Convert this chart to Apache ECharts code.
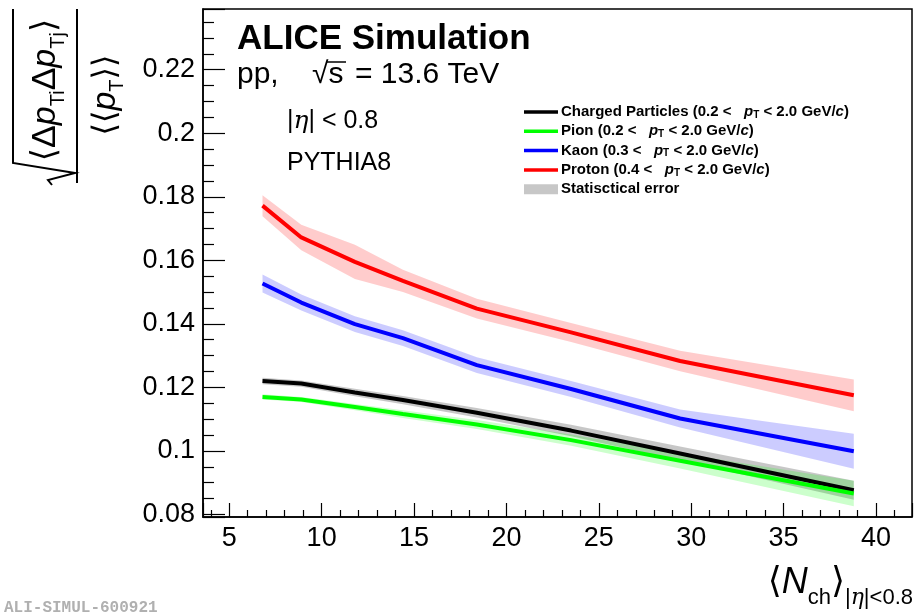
<!DOCTYPE html>
<html>
<head>
<meta charset="utf-8">
<script src="https://cdn.jsdelivr.net/npm/echarts@6/dist/echarts.min.js"></script>
<style>
html, body { margin: 0; padding: 0; background: #fff; }
#main { width: 914px; height: 612px; }
</style>
</head>
<body>
<div id="main"></div>
<script>
// <Nch> of the multiplicity classes
var nch = [6.8, 8.9, 11.8, 14.4, 18.4, 23.5, 29.4, 38.8];

var chargedY   = [0.1220, 0.1212, 0.1184, 0.1160, 0.1120, 0.1064, 0.0992, 0.0876];
var chargedErr = [0.0010, 0.0010, 0.0012, 0.0013, 0.0015, 0.0018, 0.0022, 0.0030];
var pionY      = [0.1170, 0.1162, 0.1138, 0.1116, 0.1083, 0.1034, 0.0969, 0.0866];
var pionErr    = [0.0008, 0.0008, 0.0010, 0.0012, 0.0014, 0.0018, 0.0024, 0.0040];
var kaonY      = [0.1527, 0.1467, 0.1399, 0.1355, 0.1270, 0.1195, 0.1102, 0.0999];
var kaonErr    = [0.0028, 0.0025, 0.0025, 0.0025, 0.0025, 0.0025, 0.0028, 0.0055];
var protonY    = [0.1772, 0.1672, 0.1595, 0.1535, 0.1448, 0.1373, 0.1283, 0.1175];
var protonErr  = [0.0033, 0.0040, 0.0054, 0.0035, 0.0031, 0.0030, 0.0032, 0.0050];

var names = [
    'Charged Particles (0.2 < pT < 2.0 GeV/c)',
    'Pion (0.2 < pT < 2.0 GeV/c)',
    'Kaon (0.3 < pT < 2.0 GeV/c)',
    'Proton (0.4 < pT < 2.0 GeV/c)',
    'Statisctical error'
];

var FONT = "'Liberation Sans', 'DejaVu Sans', sans-serif";

var chart = echarts.init(document.getElementById('main'), null, {renderer: 'canvas'});

function band(name, y, err, color) {
    return {
        name: name, type: 'custom', z: 1, silent: true,
        itemStyle: {color: color},
        data: nch.map(function(x, i) { return [x, y[i] - err[i], y[i] + err[i]]; }),
        encode: {x: 0, y: [1, 2]},
        renderItem: function(params, api) {
            if (params.dataIndex !== 0) return null;
            var top = [], bot = [];
            nch.forEach(function(x, i) {
                top.push(api.coord([x, y[i] + err[i]]));
                bot.unshift(api.coord([x, y[i] - err[i]]));
            });
            return {type: 'polygon', shape: {points: top.concat(bot)}, style: {fill: color}};
        }
    };
}

function line(name, y, color) {
    return {
        name: name, type: 'line', z: 3, silent: true, symbol: 'none', color: color,
        lineStyle: {width: 4, color: color},
        data: nch.map(function(x, i) { return [x, y[i]]; })
    };
}

var lineIcon = 'path://M0,0L68,0L68,7L0,7Z';

var option = {
    animation: false,
    backgroundColor: '#fff',
    grid: {left: 203, top: 9, width: 709, height: 508, show: true, borderColor: '#000', borderWidth: 1.5},
    xAxis: {
        type: 'value', min: 3.58, max: 41.95, minInterval: 5, maxInterval: 5,
        axisLine: {show: true, lineStyle: {color: '#000', width: 1.5}},
        axisTick: {inside: true, length: 14, lineStyle: {color: '#000', width: 1.2}},
        minorTick: {show: true, splitNumber: 5, length: 7, lineStyle: {color: '#000', width: 1.2}},
        splitLine: {show: false},
        axisLabel: {showMinLabel: false, showMaxLabel: false, margin: 8, color: '#000', fontSize: 27, fontFamily: FONT}
    },
    yAxis: {
        type: 'value', min: 0.0792, max: 0.2391, minInterval: 0.02, maxInterval: 0.02,
        axisLine: {show: true, lineStyle: {color: '#000', width: 1.5}},
        axisTick: {inside: true, length: 22, lineStyle: {color: '#000', width: 1.2}},
        minorTick: {show: true, splitNumber: 4, length: 11, lineStyle: {color: '#000', width: 1.2}},
        splitLine: {show: false},
        axisLabel: {
            showMinLabel: false, showMaxLabel: false, margin: 8, color: '#000', fontSize: 27, fontFamily: FONT,
            formatter: function(v) { return String(+v.toFixed(3)); }
        }
    },
    legend: {
        orient: 'vertical', left: 519, top: 99, itemWidth: 34, itemHeight: 10, itemGap: 3.3,
        selectedMode: false, inactiveColor: '#000',
        textStyle: {
            fontFamily: FONT, fontSize: 15, fontWeight: 'bold', color: '#000', lineHeight: 16, padding: [0, 0, 0, -2],
            rich: {
                i: {fontFamily: FONT, fontSize: 15, fontWeight: 'bold', fontStyle: 'italic', color: '#000'},
                s: {fontFamily: FONT, fontSize: 10, fontWeight: 'bold', color: '#000', verticalAlign: 'bottom', lineHeight: 10, padding: [6, 0, 0, 0]}
            }
        },
        formatter: function(n) {
            return n.replace(' pT ', '   {i|p}{s|T} ').replace('GeV/c)', 'GeV/{i|c})');
        },
        data: [
            {name: names[0], icon: lineIcon},
            {name: names[1], icon: lineIcon},
            {name: names[2], icon: lineIcon},
            {name: names[3], icon: lineIcon},
            {name: names[4], icon: 'rect'}
        ]
    },
    graphic: [
        {type: 'text', x: 237, y: 39, style: {text: 'ALICE Simulation', font: 'bold 35px ' + FONT, fill: '#000', verticalAlign: 'middle'}},
        {type: 'text', x: 237, y: 75, style: {text: 'pp,', font: '30px ' + FONT, fill: '#000', verticalAlign: 'middle'}},
        {type: 'text', x: 312, y: 75, style: {text: '\u221As', font: '30px ' + FONT, fill: '#000', verticalAlign: 'middle'}},
        {type: 'line', shape: {x1: 327, y1: 62, x2: 346, y2: 62}, style: {stroke: '#000', lineWidth: 1.5}},
        {type: 'text', x: 355, y: 75, style: {text: '= 13.6 TeV', font: '30px ' + FONT, fill: '#000', verticalAlign: 'middle'}},
        {type: 'text', x: 287, y: 121, style: {
            text: '|{i|\u03B7}| < 0.8', font: '25px ' + FONT, fill: '#000', verticalAlign: 'middle',
            rich: {i: {fontFamily: 'DejaVu Serif', fontStyle: 'italic', fontSize: 25}}
        }},
        {type: 'text', x: 287, y: 163, style: {text: 'PYTHIA8', font: '25px ' + FONT, fill: '#000', verticalAlign: 'middle'}},
        // y axis title, drawn rotated
        {
            type: 'group', x: 0, y: 185, rotation: Math.PI / 2,
            children: [
                {type: 'polyline', shape: {points: [[0, 52], [5, 48], [12, 75], [22, 13], [176, 13]]},
                 style: {stroke: '#000', lineWidth: 2, fill: null}},
                {type: 'line', shape: {x1: 2, y1: 77, x2: 176, y2: 77}, style: {stroke: '#000', lineWidth: 2}},
                {type: 'text', x: 95, y: 46, style: {
                    text: '{b|\u27E8\u0394}{i|p}{s|Ti}{b|\u0394}{i|p}{s|Tj}{b|\u27E9}',
                    align: 'center', verticalAlign: 'middle',
                    rich: {
                        b: {fontFamily: FONT, fontSize: 34, lineHeight: 44, color: '#000'},
                        i: {fontFamily: FONT, fontSize: 34, lineHeight: 44, fontStyle: 'italic', color: '#000'},
                        s: {fontFamily: FONT, fontSize: 20, lineHeight: 20, verticalAlign: 'bottom', color: '#000'}
                    }
                }},
                {type: 'text', x: 90, y: 106, style: {
                    text: '{b|\u27E8\u27E8}{i|p}{s|T}{b|\u27E9\u27E9}',
                    align: 'center', verticalAlign: 'middle',
                    rich: {
                        b: {fontFamily: FONT, fontSize: 32, lineHeight: 42, color: '#000'},
                        i: {fontFamily: FONT, fontSize: 34, lineHeight: 42, fontStyle: 'italic', color: '#000'},
                        s: {fontFamily: FONT, fontSize: 20, lineHeight: 20, verticalAlign: 'bottom', color: '#000'}
                    }
                }}
            ]
        },
        // x axis title
        {type: 'text', x: 913, y: 609, style: {
            text: '{b|\u27E8}{n|N}{s|ch}{b|\u27E9}{s||}{e|\u03B7}{s||<0.8}',
            align: 'right', verticalAlign: 'bottom',
            rich: {
                b: {fontFamily: FONT, fontSize: 36, lineHeight: 44, padding: [0, 0, 9, 0], color: '#000'},
                n: {fontFamily: FONT, fontSize: 36, lineHeight: 44, padding: [0, 0, 9, 0], fontStyle: 'italic', color: '#000'},
                s: {fontFamily: FONT, fontSize: 22, lineHeight: 22, verticalAlign: 'bottom', color: '#000'},
                e: {fontFamily: 'DejaVu Serif', fontSize: 22, lineHeight: 22, fontStyle: 'italic', verticalAlign: 'bottom', color: '#000'}
            }
        }},
        {type: 'text', x: 4, y: 600, style: {text: 'ALI-SIMUL-600921', font: 'bold 16px "Liberation Mono", monospace', fill: '#b0b0b0'}}
    ],
    series: [
        band(names[4], chargedY, chargedErr, 'rgba(0,0,0,0.22)'),
        band('pion band', pionY, pionErr, 'rgba(0,255,0,0.2)'),
        band('kaon band', kaonY, kaonErr, 'rgba(0,0,255,0.2)'),
        band('proton band', protonY, protonErr, 'rgba(255,0,0,0.2)'),
        line(names[0], chargedY, '#000000'),
        line(names[1], pionY, '#00ff00'),
        line(names[2], kaonY, '#0000ff'),
        line(names[3], protonY, '#ff0000')
    ]
};

chart.setOption(option);
</script>
</body>
</html>
